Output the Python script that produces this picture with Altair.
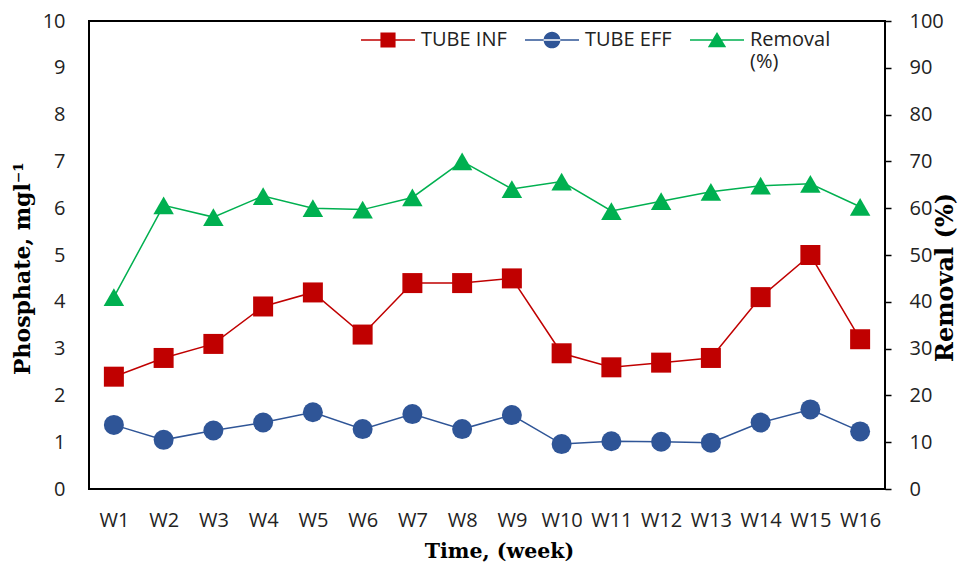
import altair as alt
import pandas as pd

weeks = ["W1", "W2", "W3", "W4", "W5", "W6", "W7", "W8", "W9", "W10", "W11", "W12", "W13", "W14", "W15", "W16"]
tube_inf = [2.4, 2.8, 3.1, 3.9, 4.2, 3.3, 4.4, 4.4, 4.5, 2.9, 2.6, 2.7, 2.8, 4.1, 5.0, 3.2]
tube_eff = [1.37, 1.05, 1.25, 1.42, 1.64, 1.28, 1.60, 1.28, 1.58, 0.96, 1.02, 1.01, 0.99, 1.42, 1.70, 1.23]
removal = [41.0, 60.6, 58.1, 62.6, 60.0, 59.7, 62.3, 70.0, 64.1, 65.7, 59.4, 61.5, 63.5, 64.8, 65.2, 60.3]
series = ["TUBE INF", "TUBE EFF", "Removal (%)"]
colors = ["#C00000", "#2F5597", "#00B050"]
left_ticks = list(range(0, 11))
right_ticks = list(range(0, 101, 10))

df = pd.DataFrame({"week": weeks, "inf": tube_inf, "eff": tube_eff, "removal": removal})
leg_df = pd.DataFrame({"series": series})

LABEL_FONT = "Open Sans"
LABEL_SIZE = 20
TITLE_FONT = "DejaVu Serif"

x_axis = alt.Axis(title="Time, (week)", labelAngle=0, ticks=False, tickSize=0, domain=False,
                  labelPadding=21, labelFontSize=LABEL_SIZE, labelFont=LABEL_FONT, labelColor="#222",
                  titleFont=TITLE_FONT, titleFontSize=20.5, titleFontWeight="bold", titleColor="#000",
                  titlePadding=11, titleX=410, grid=False)
X = alt.X("week:N", sort=weeks, axis=x_axis)

y_left = alt.Y("v:Q", scale=alt.Scale(domain=[0, 10], nice=False),
               axis=alt.Axis(title="Phosphate, mgl⁻¹", values=left_ticks, ticks=False, tickSize=0,
                             domain=False, grid=False, labelPadding=24, labelFontSize=LABEL_SIZE,
                             labelFont=LABEL_FONT, labelColor="#222", titleFont=TITLE_FONT,
                             titleFontSize=22, titleFontWeight="bold", titleColor="#000",
                             titlePadding=8, titleY=247))

base = alt.Chart(df)

inf_line = base.transform_calculate(v="datum.inf").mark_line(color=colors[0], strokeWidth=1.5).encode(x=X, y=y_left)
inf_pts = base.transform_calculate(v="datum.inf").mark_point(shape="square", filled=True, opacity=1,
                                                              color=colors[0], size=400).encode(x=X, y=y_left)
eff_line = base.transform_calculate(v="datum.eff").mark_line(color=colors[1], strokeWidth=1.5).encode(x=X, y=y_left)
eff_pts = base.transform_calculate(v="datum.eff").mark_point(shape="circle", filled=True, opacity=1,
                                                              color=colors[1], size=400).encode(x=X, y=y_left)

# legend symbols: a short line with the marker on it
sym_line = "M-1,-0.028H1V0.028H-1Z"
paths = [
    sym_line + "M-0.28,-0.28H0.28V0.28H-0.28Z",
    sym_line + "M-0.31,0A0.31,0.31,0,1,0,0.31,0A0.31,0.31,0,1,0,-0.31,0Z",
    sym_line + "M0,-0.3L0.34,0.27H-0.34Z",
]

legend_layer = alt.Chart(leg_df).mark_point(filled=True, clip=True, opacity=1).encode(
    x=alt.value(-2000), y=alt.value(-2000),
    color=alt.Color("series:N", scale=alt.Scale(domain=series, range=colors),
                    legend=alt.Legend(title=None, orient="none", legendX=272, legendY=-8,
                                      direction="horizontal", symbolSize=2916, symbolOpacity=1,
                                      symbolStrokeWidth=0, labelFontSize=LABEL_SIZE, labelFont=LABEL_FONT,
                                      labelColor="#222", labelOffset=6, columnPadding=18,
                                      labelLimit=300,
                                      labelExpr="datum.label == 'Removal (%)' ? ['Removal', '(%)'] : [datum.label, '']")),
    shape=alt.Shape("series:N", scale=alt.Scale(domain=series, range=paths)),
)

left = alt.layer(inf_line, inf_pts, eff_line, eff_pts, legend_layer)

y_right = alt.Y("removal:Q", scale=alt.Scale(domain=[0, 100], nice=False),
                axis=alt.Axis(title="Removal (%)", orient="right", values=right_ticks, ticks=True,
                              tickSize=6, tickColor="#000", tickWidth=1.5, domain=False, grid=False,
                              labelPadding=18, labelFontSize=LABEL_SIZE, labelFont=LABEL_FONT, labelColor="#222",
                              titleFont=TITLE_FONT, titleFontSize=24, titleFontWeight="bold",
                              titleColor="#000", titleAngle=270, titlePadding=14, titleY=256))

rem_line = base.mark_line(color=colors[2], strokeWidth=1.5).encode(x=X, y=y_right)
rem_pts = base.mark_point(shape="triangle-up", filled=True, opacity=1, color=colors[2], size=420).encode(x=X, y=y_right)
right = alt.layer(rem_line, rem_pts)

chart = alt.layer(left, right).resolve_scale(y="independent").properties(
    width=796, height=468, padding={"left": 3, "top": 3, "right": 0, "bottom": 0}
).configure_view(stroke="#000", strokeWidth=2)

chart.save("out.html", embed_options={"renderer": "svg", "actions": False})
